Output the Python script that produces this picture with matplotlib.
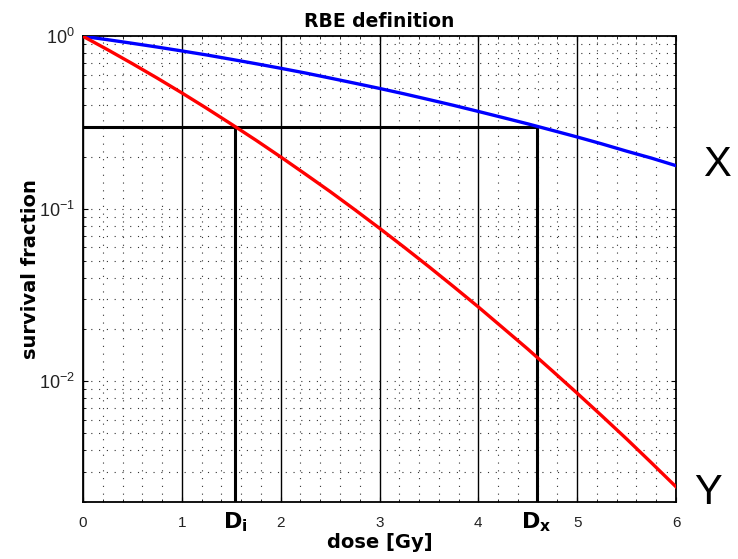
import matplotlib
matplotlib.use("Agg")
import matplotlib.pyplot as plt
from matplotlib.ticker import LogLocator, MultipleLocator, NullFormatter

# Данные (доза в Гр, доля выживших клеток)
dose = [0.0, 0.25, 0.5, 0.75, 1.0, 1.25, 1.5, 1.75, 2.0, 2.25, 2.5, 2.75, 3.0,
        3.25, 3.5, 3.75, 4.0, 4.25, 4.5, 4.75, 5.0, 5.25, 5.5, 5.75, 6.0]
survival_x = [1.0, 0.956, 0.911, 0.867, 0.823, 0.780, 0.736, 0.694, 0.653,
              0.613, 0.573, 0.535, 0.499, 0.464, 0.430, 0.398, 0.367, 0.338,
              0.311, 0.285, 0.261, 0.238, 0.216, 0.197, 0.178]
survival_y = [1.0, 0.836, 0.694, 0.573, 0.470, 0.383, 0.310, 0.250, 0.200,
              0.159, 0.126, 0.0989, 0.0772, 0.0599, 0.0462, 0.0354, 0.0270,
              0.0204, 0.0154, 0.01149, 0.00854, 0.00631, 0.00464, 0.00338,
              0.00245]

# Уровень выживаемости и соответствующие дозы
sf_level = 0.3
d_i = 1.54
d_x = 4.59

x_ticks = [0, 1, 2, 3, 4, 5, 6]

plt.rcParams["font.family"] = ["Liberation Sans", "DejaVu Sans"]

fig = plt.figure(figsize=(7.38, 5.59), dpi=100)
ax = fig.add_axes([0.1125, 0.102, 0.8035, 0.833])

# Сетка
dotted = (0, (1, 6))
ax.set_yscale("log")
ax.set_xlim(0, 6)
ax.set_ylim(0.002, 1)
ax.set_xticks(x_ticks)
ax.xaxis.set_minor_locator(MultipleLocator(0.2))
ax.yaxis.set_major_locator(LogLocator(base=10, subs=(1.0,)))
ax.yaxis.set_minor_locator(LogLocator(base=10, subs=range(2, 10)))
ax.yaxis.set_minor_formatter(NullFormatter())
ax.grid(axis="x", which="major", color="black", linewidth=1.0, linestyle="-")
ax.grid(axis="x", which="minor", color="#333333", linewidth=0.8, linestyle=dotted)
ax.grid(axis="y", which="both", color="#333333", linewidth=0.8, linestyle=dotted)

# Кривые выживания
ax.plot(dose, survival_x, color="blue", linewidth=2.4, zorder=5)
ax.plot(dose, survival_y, color="red", linewidth=2.4, zorder=5)

# Линии RBE
ax.plot([0, d_x], [sf_level, sf_level], color="black", linewidth=2.2, zorder=4)
ax.plot([d_i, d_i], [0.002, sf_level], color="black", linewidth=2.2, zorder=4)
ax.plot([d_x, d_x], [0.002, sf_level], color="black", linewidth=2.2, zorder=4)

ax.tick_params(which="both", direction="in", top=True, right=True,
               colors="black", labelcolor="#222222")
ax.tick_params(axis="x", labelsize=11, pad=10)
ax.tick_params(axis="y", labelsize=13, pad=6)
for spine in ax.spines.values():
    spine.set_linewidth(1.3)

ax.set_title("RBE definition", fontsize=13.5, fontweight="bold", pad=7,
             family=["DejaVu Sans"])
ax.set_xlabel("dose [Gy]", fontsize=14, fontweight="bold", labelpad=2,
              family=["DejaVu Sans"])
ax.set_ylabel("survival fraction", fontsize=14, fontweight="bold",
              family=["DejaVu Sans"])
ax.yaxis.set_label_coords(-0.072, 0.5)

# Подписи D_i и D_x под осью
trans = ax.get_xaxis_transform()
for d, sub in [(d_i, "i"), (d_x, "x")]:
    ax.text(d, -0.018, r"$\mathbf{D}_{\mathbf{%s}}$" % sub, transform=trans,
            ha="center", va="top", fontsize=16)

# Метки X и Y справа
fig.text(0.972, 0.705, "X", fontsize=30, ha="center", va="center")
fig.text(0.959, 0.118, "Y", fontsize=30, ha="center", va="center")

fig.savefig("out.png", dpi=100)
